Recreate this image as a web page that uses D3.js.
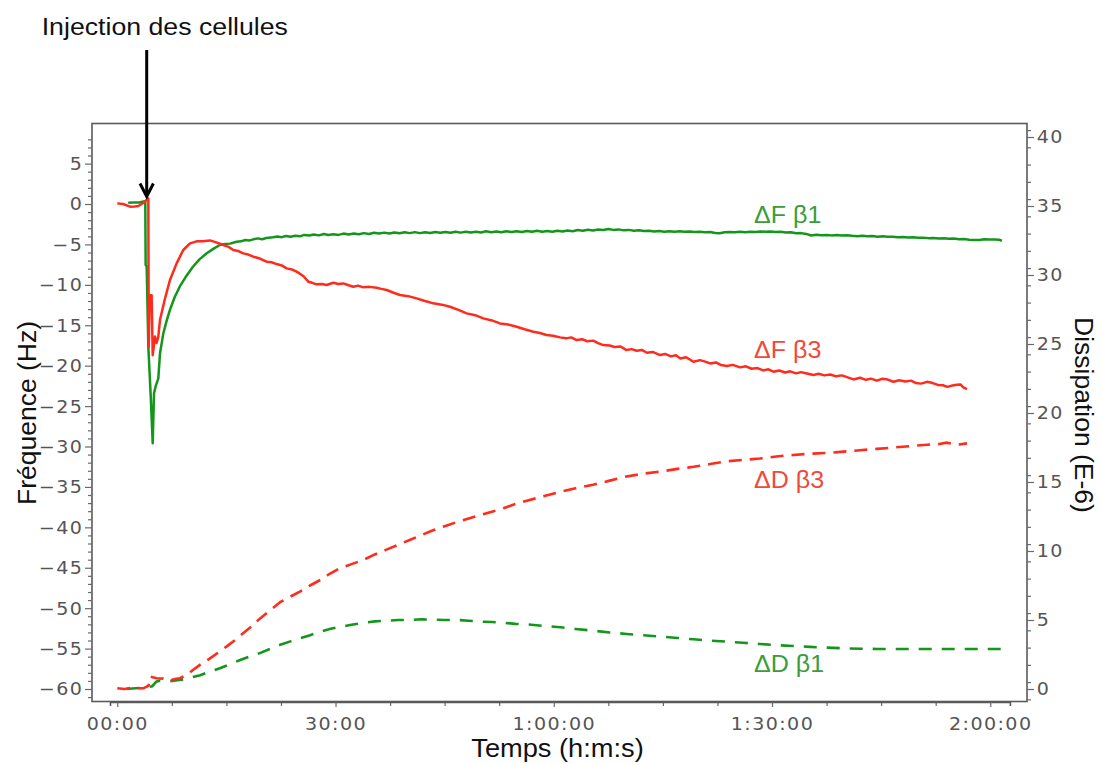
<!DOCTYPE html>
<html><head><meta charset="utf-8">
<script src="https://cdn.jsdelivr.net/npm/d3@7"></script>
<style>html,body{margin:0;padding:0;background:#fff;} svg{display:block;}</style>
</head><body>
<svg id="chart" width="1101" height="764"></svg>
<script>
// ---------- DATA (time in minutes, value) ----------
const xTickValues = [0, 30, 60, 90, 120];
const xTickLabels = ["00:00", "30:00", "1:00:00", "1:30:00", "2:00:00"];
const xMinorTicks = [7.5, 15, 22.5, 37.5, 45, 52.5, 67.5, 75, 82.5, 97.5, 105, 112.5];
const yLeftTicks = [-60, -55, -50, -45, -40, -35, -30, -25, -20, -15, -10, -5, 0, 5];
const yRightTicks = [0, 5, 10, 15, 20, 25, 30, 35, 40];
const seriesNames = ["ΔF β1", "ΔF β3", "ΔD β3", "ΔD β1"];

// ΔF β1 (Hz, left axis) green solid
const dfB1 = [[1.5,0.15],[2.2,0.2],[3.0,0.18],[3.6,0.3],[3.85,0.35],[3.9,-7.55],[4.04,-7.7],[4.27,-17.7],[4.6,-23.8],[4.87,-29.6],[5.05,-23.4],[5.32,-22.4],[5.64,-21.6],[5.87,-18.5],[6.33,-16.0],[6.8,-14.4],[7.24,-13.1],[7.9,-11.5],[8.6,-10.2],[9.5,-8.9],[10.4,-7.76],[11.3,-6.85],[12.3,-6.1],[13.2,-5.55],[14.1,-5.07],[14.8,-4.95],[15.5,-4.9],[16.4,-4.66],[17.0,-4.62],[17.6,-4.45],[18.2,-4.5],[18.7,-4.37],[19.3,-4.25],[19.9,-4.35],[20.5,-4.2],[21.4,-4.12],[22.0,-4.02],[22.6,-4.1],[23.2,-3.95],[23.8,-4.05],[24.5,-3.92],[25.1,-4.0],[25.7,-3.82],[26.4,-3.9],[27.0,-3.78],[27.7,-3.88],[28.4,-3.72],[29.0,-3.84],[29.7,-3.74],[30.4,-3.82],[31.1,-3.66],[31.8,-3.76],[32.5,-3.64],[33.2,-3.74],[33.9,-3.6],[34.6,-3.7],[35.3,-3.56],[36.0,-3.66],[36.7,-3.54],[37.4,-3.64],[38.1,-3.52],[38.8,-3.62],[39.5,-3.5],[40.2,-3.6],[40.9,-3.48],[41.6,-3.6],[42.3,-3.5],[43.0,-3.58],[43.7,-3.46],[44.4,-3.56],[45.1,-3.46],[45.8,-3.56],[46.5,-3.44],[47.2,-3.54],[47.9,-3.42],[48.6,-3.52],[49.3,-3.44],[50.0,-3.52],[50.7,-3.38],[51.4,-3.48],[52.1,-3.4],[52.8,-3.5],[53.5,-3.36],[54.2,-3.46],[54.9,-3.38],[55.6,-3.46],[56.3,-3.34],[57.0,-3.44],[57.7,-3.3],[58.4,-3.42],[59.1,-3.34],[59.8,-3.42],[60.5,-3.3],[61.2,-3.4],[61.9,-3.28],[62.6,-3.36],[63.3,-3.22],[64.0,-3.3],[64.7,-3.18],[65.4,-3.28],[66.1,-3.16],[66.8,-3.22],[67.5,-3.1],[68.2,-3.2],[68.9,-3.14],[69.6,-3.26],[70.3,-3.2],[71.0,-3.3],[71.7,-3.24],[72.4,-3.34],[73.1,-3.3],[73.8,-3.4],[74.5,-3.34],[75.2,-3.42],[75.9,-3.36],[76.6,-3.44],[77.3,-3.38],[78.0,-3.44],[78.7,-3.4],[79.4,-3.46],[80.1,-3.42],[80.8,-3.5],[81.5,-3.46],[82.2,-3.58],[82.8,-3.62],[83.5,-3.5],[84.2,-3.46],[84.9,-3.5],[85.6,-3.44],[86.3,-3.48],[87.0,-3.42],[87.7,-3.46],[88.4,-3.4],[89.1,-3.44],[89.8,-3.4],[90.5,-3.46],[91.2,-3.44],[91.9,-3.52],[92.6,-3.5],[93.3,-3.62],[94.0,-3.6],[94.7,-3.7],[95.4,-3.9],[96.1,-3.8],[96.8,-3.86],[97.5,-3.82],[98.2,-3.88],[98.9,-3.84],[99.6,-3.9],[100.3,-3.86],[101.0,-3.94],[101.7,-3.98],[102.4,-3.92],[103.1,-4.0],[103.8,-3.96],[104.5,-4.04],[105.2,-4.0],[105.9,-4.06],[106.6,-4.04],[107.3,-4.1],[108.0,-4.08],[108.7,-4.14],[109.4,-4.12],[110.1,-4.18],[110.8,-4.16],[111.5,-4.22],[112.2,-4.2],[112.9,-4.26],[113.6,-4.24],[114.3,-4.3],[115.0,-4.28],[115.7,-4.36],[116.4,-4.34],[117.1,-4.42],[117.8,-4.46],[118.5,-4.44],[119.2,-4.36],[119.9,-4.38],[120.6,-4.4],[121.2,-4.42],[121.6,-4.54]];

// ΔF β3 (Hz, left axis) red solid
const dfB3 = [[0,0.08],[0.8,0.0],[1.75,-0.33],[2.4,-0.3],[2.9,-0.25],[3.6,0.16],[4.27,0.7],[4.32,-17.7],[4.45,-11.3],[4.72,-11.3],[4.87,-18.7],[5.18,-16.4],[5.4,-17.2],[5.64,-16.4],[5.87,-14.36],[6.56,-11.7],[7.24,-9.4],[8.16,-7.34],[9.07,-5.69],[10.0,-4.87],[10.9,-4.62],[11.8,-4.62],[12.74,-4.5],[13.6,-4.75],[14.57,-5.07],[15.3,-5.3],[15.95,-5.69],[16.6,-5.8],[17.32,-6.11],[18.0,-6.25],[18.7,-6.52],[19.6,-6.75],[20.53,-7.14],[21.2,-7.2],[21.9,-7.43],[22.6,-7.6],[23.28,-7.96],[24.0,-8.1],[24.65,-8.37],[25.57,-8.91],[26.26,-9.61],[26.8,-9.75],[27.4,-9.94],[28.1,-9.9],[28.78,-10.02],[29.7,-9.74],[30.4,-9.9],[31.07,-9.82],[31.8,-10.05],[32.45,-10.23],[33.1,-10.1],[33.82,-10.31],[34.7,-10.25],[35.65,-10.36],[36.3,-10.5],[37.03,-10.64],[37.9,-10.95],[38.86,-11.26],[40.0,-11.4],[41.15,-11.67],[42.3,-12.0],[43.44,-12.29],[44.6,-12.45],[45.73,-12.71],[46.9,-13.1],[48.02,-13.53],[49.2,-13.75],[50.31,-14.15],[51.5,-14.4],[52.6,-14.77],[53.7,-14.9],[54.9,-15.18],[56.0,-15.5],[57.2,-15.8],[58.1,-15.95],[59.0,-16.21],[59.9,-16.3],[60.85,-16.5],[61.7,-16.62],[62.4,-16.5],[63.14,-16.83],[63.9,-16.72],[64.6,-16.98],[65.43,-16.9],[66.1,-17.2],[66.8,-17.45],[67.7,-17.5],[68.4,-17.7],[69.2,-17.62],[70.0,-18.07],[70.7,-17.95],[71.4,-18.15],[72.1,-18.05],[72.8,-18.4],[73.6,-18.3],[74.6,-18.69],[75.3,-18.55],[76.1,-18.85],[76.8,-18.72],[77.4,-19.1],[78.2,-18.95],[79.2,-19.51],[80.1,-19.31],[80.8,-19.5],[81.5,-19.72],[82.3,-19.6],[83.0,-19.92],[83.8,-20.05],[84.6,-19.9],[85.6,-20.21],[86.4,-20.08],[87.2,-20.38],[88.0,-20.3],[88.8,-20.58],[89.5,-20.45],[90.2,-20.75],[91.0,-20.6],[91.8,-20.85],[92.5,-20.7],[93.3,-20.95],[94.0,-20.8],[94.8,-20.96],[95.7,-21.16],[96.4,-21.0],[97.2,-21.2],[98.0,-21.1],[98.8,-21.32],[99.6,-21.2],[100.4,-21.45],[101.2,-21.7],[102.1,-21.5],[102.9,-21.75],[103.6,-21.6],[104.4,-21.85],[105.2,-21.62],[105.9,-21.72],[106.7,-21.99],[107.5,-21.8],[108.3,-21.95],[109.1,-21.85],[109.8,-22.15],[110.5,-22.22],[111.3,-22.0],[112.1,-22.15],[112.8,-22.38],[113.5,-22.42],[114.1,-22.62],[114.8,-22.45],[115.4,-22.35],[115.9,-22.32],[116.3,-22.69],[116.8,-22.9]];

// ΔD β3 (E-6, right axis) red dashed
const ddB3 = [[0,0.05],[1,0.0],[2,0.1],[3,0.05],[3.6,0.05],[4.3,0.25],[4.5,0.9],[5.4,0.78],[6.3,0.75],[7.2,0.6],[7.9,0.72],[8.6,0.78],[9.5,1.0],[10.4,1.38],[11.5,1.8],[12.7,2.2],[13.9,2.65],[15.0,3.07],[16.2,3.55],[17.3,4.04],[18.5,4.55],[19.6,5.1],[21.0,5.7],[22.4,6.3],[23.8,6.7],[25.1,7.05],[26.5,7.5],[27.9,7.9],[29.2,8.35],[30.6,8.75],[32.2,9.05],[33.8,9.35],[35.4,9.75],[37.0,10.1],[38.6,10.45],[40.2,10.8],[41.8,11.15],[43.4,11.5],[45.0,11.8],[46.7,12.1],[48.3,12.35],[49.9,12.6],[51.5,12.85],[53.1,13.1],[54.7,13.4],[56.3,13.65],[58.5,13.95],[60.9,14.3],[63.0,14.55],[65.4,14.8],[67.7,15.1],[70.0,15.4],[72.3,15.6],[74.6,15.75],[77.0,15.95],[79.2,16.1],[81.5,16.3],[83.8,16.5],[86.0,16.6],[88.3,16.7],[90.6,16.85],[92.9,16.96],[95.2,17.05],[97.5,17.1],[99.8,17.2],[102.1,17.3],[104.4,17.4],[106.7,17.5],[109.0,17.6],[111.3,17.7],[113.0,17.75],[114.0,17.85],[115.5,17.7],[116.8,17.8]];

// ΔD β1 (E-6, right axis) green dashed
const ddB1 = [[1.3,0.0],[2.5,0.05],[4.0,0.1],[4.8,0.2],[5.4,0.55],[5.9,0.6],[7.0,0.55],[8.0,0.62],[9.1,0.7],[10.2,0.85],[11.4,1.0],[12.7,1.25],[14.1,1.5],[15.5,1.8],[16.9,2.1],[18.2,2.35],[19.6,2.6],[21.0,2.9],[22.4,3.2],[23.8,3.45],[25.1,3.67],[26.5,3.9],[27.9,4.15],[29.2,4.35],[30.6,4.5],[32.2,4.65],[33.8,4.8],[35.4,4.9],[37.0,4.95],[38.6,5.0],[40.2,5.0],[41.8,5.05],[43.4,5.02],[45.0,5.0],[46.7,5.0],[48.3,4.95],[49.9,4.88],[51.5,4.85],[53.1,4.8],[54.7,4.72],[56.3,4.68],[58.5,4.58],[60.9,4.47],[63.0,4.35],[65.4,4.23],[67.7,4.1],[70.0,3.99],[72.3,3.9],[74.6,3.8],[77.0,3.7],[79.2,3.6],[81.5,3.5],[83.8,3.43],[86.0,3.35],[88.3,3.26],[90.6,3.18],[92.9,3.12],[95.2,3.05],[97.5,3.0],[99.8,2.95],[102.1,2.92],[104.4,2.9],[106.7,2.9],[110.0,2.9],[113.0,2.9],[116.0,2.9],[119.0,2.9],[121.6,2.9]];

// ---------- CHART ----------
const svg = d3.select("#chart");
const GREEN = "#14951c", RED = "#ff2b1c";
const GREEN_TXT = "#3a9c3a", RED_TXT = "#f2483a";
const SX = 1.09; // horizontal text stretch

const x = d3.scaleLinear().domain([-1, 122.7]).range([110, 1009.9]);
const yL = d3.scaleLinear().domain([-60, 5]).range([689, 163.6]);
const yR = d3.scaleLinear().domain([0, 40]).range([689, 137]);

const frame = {l: 92, t: 123.5, r: 1027, b: 701.5};

svg.append("rect")
  .attr("x", frame.l).attr("y", frame.t)
  .attr("width", frame.r - frame.l).attr("height", frame.b - frame.t)
  .attr("fill", "none").attr("stroke", "#5a5a5a").attr("stroke-width", 1.6);

function styleAxis(g) {
  g.selectAll("line").attr("stroke", "#6a6a6a").attr("stroke-width", 1.2);
  g.selectAll("path.domain").attr("stroke", "#5a5a5a").attr("stroke-width", 1.6);
  g.selectAll("text")
    .attr("fill", "#555")
    .style("font-family", "'DejaVu Sans', Verdana, sans-serif")
    .style("font-size", "17.5px")
    .style("letter-spacing", "1.3px");
}

const leftMinor = d3.range(-61, 9).filter(v => v % 5 !== 0);
const rightMinor = d3.range(-0.75, 41, 1.25).filter(v => Math.abs(v % 5) > 0.01 && v > -1);

svg.append("g").attr("transform", `translate(${frame.l},0)`)
  .call(d3.axisLeft(yL).tickValues(leftMinor).tickSize(4).tickFormat(""))
  .call(g => g.select(".domain").remove()).call(styleAxis);
svg.append("g").attr("transform", `translate(${frame.r},0)`)
  .call(d3.axisRight(yR).tickValues(rightMinor).tickSize(4).tickFormat(""))
  .call(g => g.select(".domain").remove()).call(styleAxis);
svg.append("g").attr("transform", `translate(0,${frame.b + 0.5})`)
  .call(d3.axisBottom(x).tickValues(xMinorTicks).tickSize(4).tickFormat(""))
  .call(g => g.select(".domain").remove()).call(styleAxis);

const gx = svg.append("g").attr("transform", `translate(0,${frame.b + 0.5})`)
  .call(d3.axisBottom(x).tickValues(xTickValues).tickFormat((d, i) => xTickLabels[i]).tickSizeInner(5).tickSizeOuter(4))
  .call(styleAxis);
gx.selectAll("text").attr("y", 28).attr("dy", 0).attr("transform", `scale(${SX},1)`);

const gl = svg.append("g").attr("transform", `translate(${frame.l},0)`)
  .call(d3.axisLeft(yL).tickValues(yLeftTicks).tickSizeInner(7).tickSizeOuter(0))
  .call(g => g.select(".domain").remove()).call(styleAxis);
gl.selectAll("text").attr("x", -8).attr("dy", "0.34em").attr("transform", `scale(${SX},1)`);

const gr = svg.append("g").attr("transform", `translate(${frame.r},0)`)
  .call(d3.axisRight(yR).tickValues(yRightTicks).tickSizeInner(7).tickSizeOuter(0))
  .call(g => g.select(".domain").remove()).call(styleAxis);
gr.selectAll("text").attr("x", 9).attr("dy", "0.34em").attr("transform", `scale(${SX},1)`);

const lineL = d3.line().x(d => x(d[0])).y(d => yL(d[1]));
const lineR = d3.line().x(d => x(d[0])).y(d => yR(d[1]));

svg.append("path").datum(ddB1).attr("d", lineR).attr("fill", "none")
  .attr("stroke", GREEN).attr("stroke-width", 2.6).attr("stroke-dasharray", "13,10");
svg.append("path").datum(ddB3).attr("d", lineR).attr("fill", "none")
  .attr("stroke", RED).attr("stroke-width", 2.6).attr("stroke-dasharray", "13,8");
svg.append("path").datum(dfB1).attr("d", lineL).attr("fill", "none")
  .attr("stroke", GREEN).attr("stroke-width", 2.5).attr("stroke-linejoin", "round");
svg.append("path").datum(dfB3).attr("d", lineL).attr("fill", "none")
  .attr("stroke", RED).attr("stroke-width", 2.5).attr("stroke-linejoin", "round");

const labelPos = [[754, 223, GREEN_TXT], [754, 358, RED_TXT], [754, 488, RED_TXT], [754, 672, GREEN_TXT]];
seriesNames.forEach((name, i) => {
  svg.append("text")
    .attr("transform", `translate(${labelPos[i][0]},${labelPos[i][1]}) scale(${SX},1)`)
    .attr("fill", labelPos[i][2])
    .style("font-family", "'Liberation Sans', Arial, sans-serif")
    .style("font-size", "23px")
    .text(name);
});

const titleFont = "'Liberation Sans', Arial, sans-serif";
svg.append("text")
  .attr("transform", `translate(557.5,757) scale(${SX},1)`)
  .attr("text-anchor", "middle").attr("fill", "#111")
  .style("font-family", titleFont).style("font-size", "25px")
  .text("Temps (h:m:s)");
svg.append("text")
  .attr("transform", "translate(36,413) rotate(-90)")
  .attr("text-anchor", "middle").attr("fill", "#111")
  .style("font-family", titleFont).style("font-size", "26.5px")
  .text("Fréquence (Hz)");
svg.append("text")
  .attr("transform", "translate(1075,415) rotate(90)")
  .attr("text-anchor", "middle").attr("fill", "#111")
  .style("font-family", titleFont).style("font-size", "26.5px")
  .text("Dissipation (E-6)");

svg.append("text")
  .attr("transform", `translate(41.7,34.5) scale(${SX},1)`)
  .attr("fill", "#111")
  .style("font-family", titleFont).style("font-size", "24.5px")
  .text("Injection des cellules");
svg.append("line")
  .attr("x1", 146.7).attr("y1", 50).attr("x2", 146.7).attr("y2", 195)
  .attr("stroke", "#000").attr("stroke-width", 3);
svg.append("path")
  .attr("d", "M140,183.5 L146.7,196.5 L153.4,183.5")
  .attr("fill", "none").attr("stroke", "#000").attr("stroke-width", 3)
  .attr("stroke-linejoin", "miter");
</script></body></html>
